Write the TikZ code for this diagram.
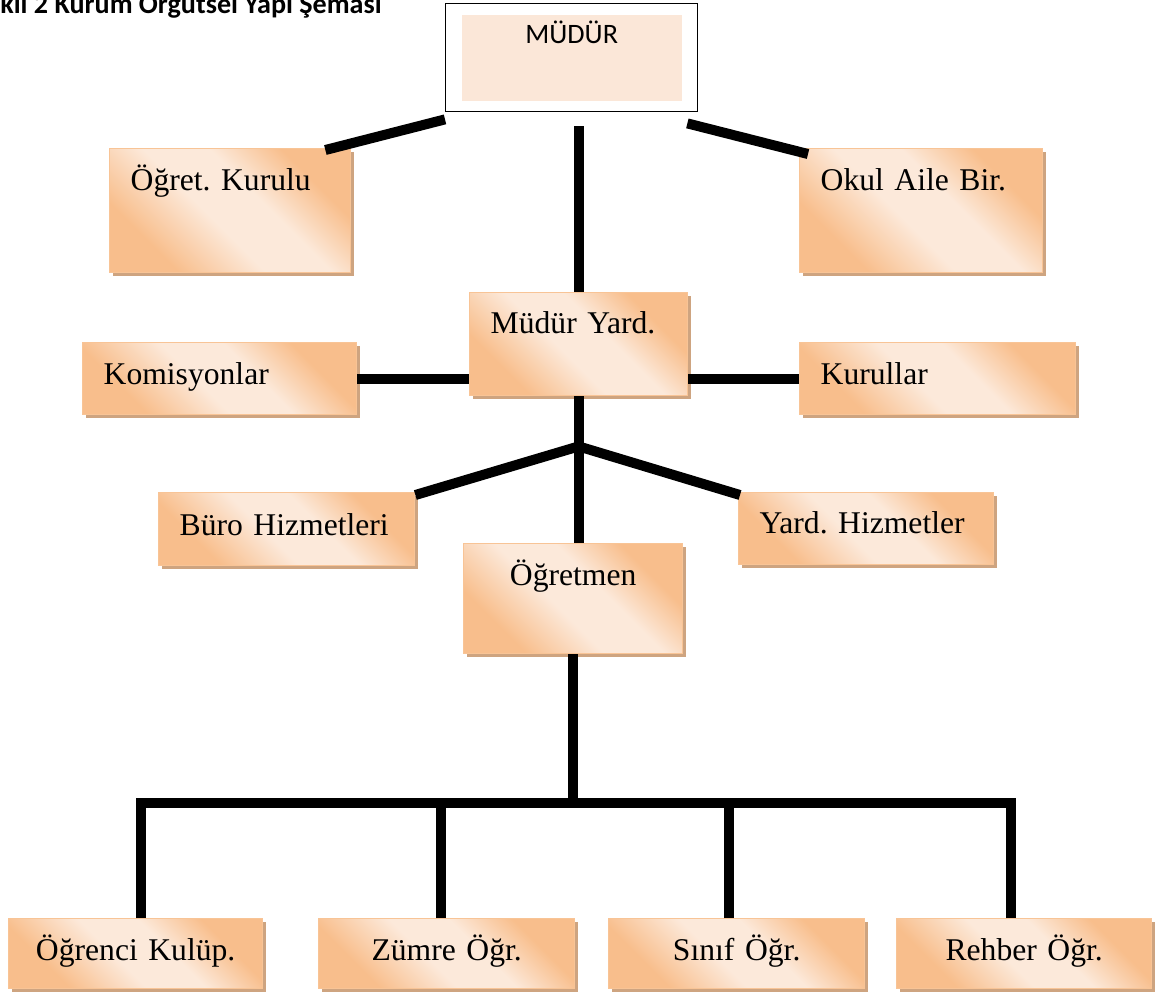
\documentclass[tikz,border=0pt]{standalone}
\usepackage{fontspec}
\setmainfont{Liberation Serif}
\newfontfamily\calibrifont{Carlito}
\frenchspacing
\usetikzlibrary{positioning}
\usetikzlibrary{calc,shadows}

\definecolor{peachdark}{RGB}{248,190,140}
\definecolor{peachlight}{RGB}{252,233,218}
\definecolor{peachedge}{RGB}{248,196,150}
\definecolor{peachshadow}{RGB}{206,164,128}
\definecolor{mudurfill}{RGB}{251,231,216}
\pgfdeclarehorizontalshading{peachshade}{100bp}{color(0bp)=(peachdark); color(28bp)=(peachdark); color(45bp)=(peachlight); color(58bp)=(peachlight); color(72bp)=(peachdark); color(100bp)=(peachdark)}

\begin{document}
\begin{tikzpicture}[
            x=0.02cm, y=-0.02cm,
            orgbox/.style={rectangle, draw=peachedge, line width=0.8pt, shading=peachshade, shading angle=45,
                general shadow={fill=peachshadow, shadow xshift=0.07cm, shadow yshift=-0.07cm},
                anchor=north west, inner xsep=0.42cm, inner ysep=0pt, align=left,
                font=\fontsize{18}{22}\selectfont},
            boxsize/.style n args={3}{text width=#1, text height=#2, text depth=#3},
            headbox/.style={rectangle, draw=black, line width=0.8pt, fill=white, anchor=north west,
                inner sep=0pt, align=center, font=\calibrifont\fontsize{16}{19}\selectfont,
                path picture={\fill[mudurfill] ([xshift=0.32cm,yshift=-0.22cm]path picture bounding box.north west)
                    rectangle ([xshift=-0.32cm,yshift=0.22cm]path picture bounding box.south east);}},
            link/.style={line width=0.2cm},
        ]
            \useasboundingbox (0,0) rectangle (1166,991);

            % Nodes
            \node[font=\calibrifont\bfseries\fontsize{16}{19}\selectfont, anchor=base east, inner sep=0pt] (title) at (382,13) {kil 2 Kurum Örgütsel Yapı Şeması};
            \node[headbox, boxsize={5.04cm}{0.8cm}{1.36cm}] (mudur) at (445,3) {MÜDÜR};
            \node[orgbox, boxsize={3.98cm}{0.84cm}{1.64cm}] (ogretkurul) at (109,148) {Öğret. Kurulu};
            \node[orgbox, boxsize={4.02cm}{0.84cm}{1.64cm}] (okulaile) at (799,148) {Okul Aile Bir.};
            \node[orgbox, boxsize={3.52cm}{0.82cm}{1.24cm}] (mudyard) at (469,292) {Müdür Yard.};
            \node[orgbox, boxsize={4.64cm}{0.84cm}{0.6cm}] (komisyon) at (82,342) {Komisyonlar};
            \node[orgbox, boxsize={4.68cm}{0.84cm}{0.6cm}] (kurullar) at (799,342) {Kurullar};
            \node[orgbox, boxsize={4.28cm}{0.86cm}{0.6cm}] (buro) at (158,492) {Büro Hizmetleri};
            \node[orgbox, boxsize={4.26cm}{0.82cm}{0.62cm}] (yardhiz) at (738,492) {Yard. Hizmetler};
            \node[orgbox, align=center, boxsize={3.54cm}{0.84cm}{1.36cm}] (ogretmen) at (463,543) {Öğretmen};
            \node[orgbox, align=center, boxsize={4.24cm}{0.84cm}{0.56cm}] (ogrenci) at (8,918) {Öğrenci Kulüp.};
            \node[orgbox, align=center, boxsize={4.28cm}{0.84cm}{0.56cm}] (zumre) at (318,918) {Zümre Öğr.};
            \node[orgbox, align=center, boxsize={4.28cm}{0.84cm}{0.56cm}] (sinif) at (608,918) {Sınıf Öğr.};
            \node[orgbox, align=center, boxsize={4.26cm}{0.84cm}{0.56cm}] (rehber) at (896,918) {Rehber Öğr.};

            % Lines
            \draw[link] ($(mudur.south west)+(0,7)$) -- ($(ogretkurul.north east)+(-26,2)$);
            \draw[link] ($(mudur.south east)+(-11,11)$) -- ($(okulaile.north west)+(9,6)$);
            \draw[link] ([yshift=-0.28cm]mudyard.north |- mudur.south) -- (mudyard.north);
            \draw[link] (komisyon.east) -- (komisyon.east -| mudyard.west);
            \draw[link] (kurullar.west) -- (kurullar.west -| mudyard.east);
            \coordinate (branch) at ($(mudyard.south)+(0,50)$);
            \draw[link] (mudyard.south) -- (mudyard.south |- ogretmen.north);
            \draw[link] ($(buro.north east)+(0,3)$) -- (branch) -- ($(yardhiz.north west)+(2,3)$);
            \coordinate (bus) at ($(ogretmen.south)+(0,150)$);
            \draw[link] (ogretmen.south) -- (bus);
            \draw[link, line cap=rect] ($(ogrenci.north)+(5,-115)$) -- ($(rehber.north)+(-13,-115)$);
            \foreach \n/\dx in {ogrenci/5, zumre/-6, sinif/-8, rehber/-13}
                \draw[link] ($(\n.north)+(\dx,0)$) -- ($(\n.north)+(\dx,-115)$);
        \end{tikzpicture}
\end{document}
